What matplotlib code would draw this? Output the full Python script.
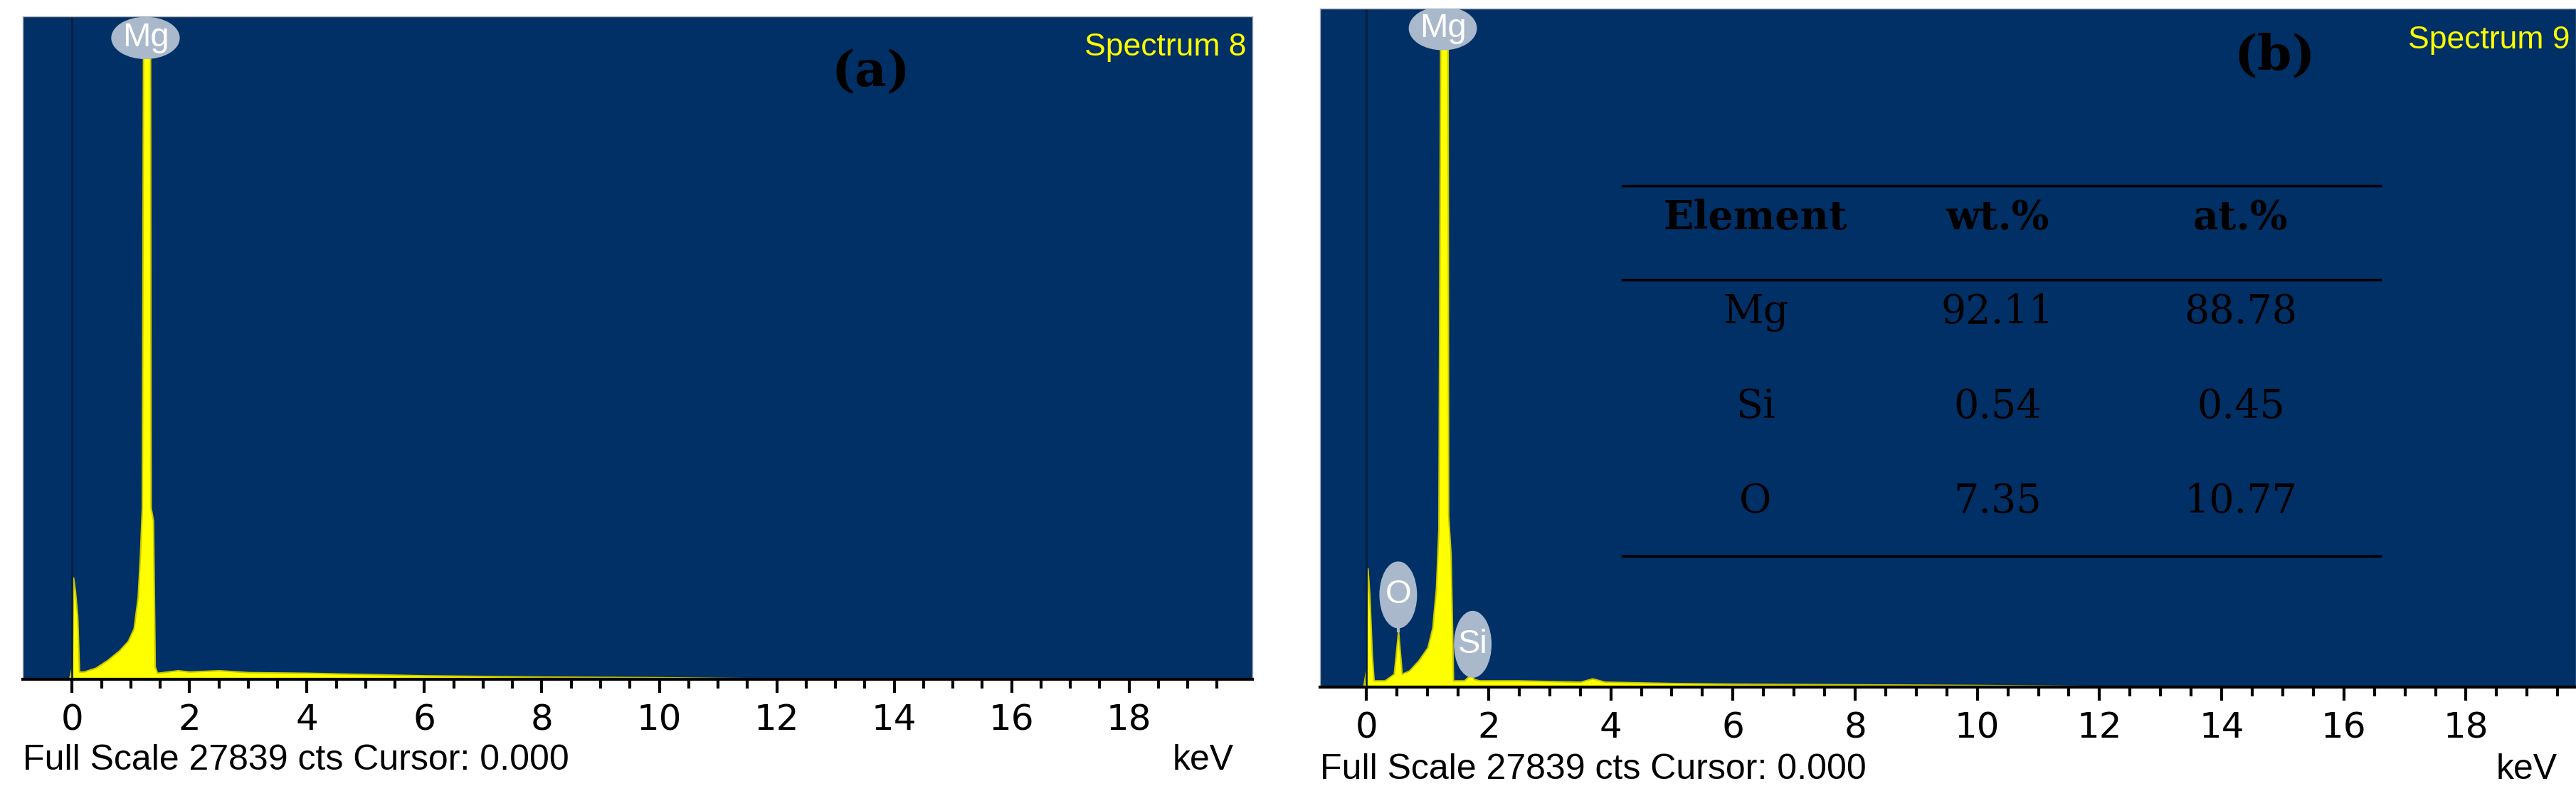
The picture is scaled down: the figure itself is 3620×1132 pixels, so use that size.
import numpy as np
import matplotlib.pyplot as plt
from matplotlib.patches import Ellipse

# spectrum (a): energy keV, normalized counts
kev_a = [-0.05, 0.0, 0.02, 0.05, 0.09, 0.12, 0.2, 0.4, 0.6, 0.8, 0.95, 1.05, 1.12, 1.16, 1.19, 1.21,
         1.33, 1.34, 1.38, 1.41, 1.45, 1.8, 2.0, 2.5, 3.0, 4.0, 5.0, 6.0, 8.0, 10.0, 11.0, 13.0, 20.0]
cts_a = [0, 0.02, 0.16, 0.14, 0.10, 0.012, 0.012, 0.018, 0.03, 0.045, 0.06, 0.08, 0.13, 0.2, 0.27, 1.0,
         1.0, 0.27, 0.25, 0.02, 0.01, 0.014, 0.012, 0.014, 0.011, 0.01, 0.008, 0.006, 0.004, 0.003, 0.002, 0.0005, 0]
# spectrum (b)
kev_b = [-0.05, 0.0, 0.02, 0.05, 0.09, 0.12, 0.3, 0.45, 0.52, 0.58, 0.7, 0.85, 1.0, 1.08, 1.14, 1.18, 1.21,
         1.33, 1.34, 1.38, 1.42, 1.6, 1.72, 1.76, 1.85, 2.5, 3.0, 3.5, 3.7, 3.9, 5.0, 6.0, 8.0, 10.0, 11.2, 13.0, 20.0]
cts_b = [0, 0.03, 0.18, 0.14, 0.05, 0.01, 0.01, 0.02, 0.085, 0.02, 0.025, 0.04, 0.06, 0.09, 0.15, 0.24, 1.0,
         1.0, 0.26, 0.2, 0.01, 0.01, 0.02, 0.012, 0.01, 0.01, 0.009, 0.008, 0.013, 0.008, 0.006, 0.005, 0.004, 0.003, 0.002, 0.0005, 0]

table_cols = ['Element', 'wt.%', 'at.%']
table_rows = [['Mg', '92.11', '88.78'], ['Si', '0.54', '0.45'], ['O', '7.35', '10.77']]

W, H = 3620, 1132
fig = plt.figure(figsize=(W / 100, H / 100), dpi=100)
navy = '#003066'
yellow = '#ffff00'
bubble = '#a9b9cb'


def panel(box, kev, cts, ylim, xlim, spec, tag, labels):
    l, r, t, b = box
    ax = fig.add_axes([l / W, 1 - b / H, (r - l) / W, (b - t) / H])
    ax.set_facecolor(navy)
    ax.fill_between(kev, cts, 0, color=yellow, lw=1.5, edgecolor='#c8c800')
    ax.axvline(0, color='#0a1f3a', lw=2)
    ax.set_xlim(*xlim)
    ax.set_ylim(0, ylim)
    ax.set_yticks([])
    ax.set_xticks(np.arange(0, 20, 2))
    ax.set_xticks(np.arange(0, 20, 0.5), minor=True)
    ax.tick_params(axis='x', which='major', length=14, width=3, labelsize=36, pad=10, direction='out')
    ax.tick_params(axis='x', which='minor', length=9, width=3, direction='out')
    for s in ['top', 'left', 'right']:
        ax.spines[s].set_color('#b0b0b0')
        ax.spines[s].set_linewidth(1)
    ax.spines['bottom'].set_linewidth(3)
    ax.text(0.995, 0.975, spec, transform=ax.transAxes, ha='right', va='top', color=yellow,
            fontsize=32, family='Liberation Sans')
    ax.text(tag[0], tag[1], tag[2], transform=ax.transAxes, ha='center', va='center',
            fontsize=50, fontweight='bold', family='DejaVu Serif')
    for name, x, y, w, h in labels:
        ax.add_patch(Ellipse((x, y), w, h, color=bubble, zorder=5))
        ax.text(x, y, name, ha='center', va='center', color='white', fontsize=34,
                family='Liberation Sans', zorder=6)
    ax.text(0.0, -0.122, 'Full Scale 27839 cts Cursor: 0.000', transform=ax.transAxes,
            ha='left', va='center', fontsize=36, family='Liberation Sans')
    ax.text(0.985, -0.122, 'keV', transform=ax.transAxes, ha='right', va='center', fontsize=36,
            family='Liberation Sans')
    return ax


panel((32, 1760, 23, 954), kev_a, cts_a, 1.044, (-0.84, 20.1), 'Spectrum 8',
      (0.69, 0.915, '(a)'), [('Mg', 1.25, 1.01, 1.15, 0.065)])
axb = panel((1855, 3620, 12, 965), kev_b, cts_b, 1.03, (-0.76, 19.8), 'Spectrum 9',
            (0.76, 0.93, '(b)'), [('Mg', 1.25, 1.0, 1.1, 0.065), ('O', 0.52, 0.14, 0.6, 0.1),
                                   ('Si', 1.74, 0.065, 0.6, 0.1)])
axb.plot([0.52, 0.52], [0.085, 0.1], color=bubble, lw=3)
axb.plot([1.74, 1.74], [0.02, 0.03], color=bubble, lw=3)

# table in panel (b)
for yy in [261, 393, 781]:
    fig.add_artist(plt.Line2D([2280 / W, 3345 / W], [1 - yy / H] * 2, color='black', lw=2.5))
col_x = [2467, 2807, 3149]
for j, c in enumerate(table_cols):
    fig.text(col_x[j] / W, 1 - 307 / H, c, ha='center', va='center', fontsize=40,
             fontweight='bold', family='DejaVu Serif')
for i, row in enumerate(table_rows):
    for j, v in enumerate(row):
        fig.text(col_x[j] / W, 1 - (439 + 133 * i) / H, v, ha='center', va='center',
                 fontsize=40, family='DejaVu Serif')

fig.savefig('out.png', dpi=100, facecolor='white')
